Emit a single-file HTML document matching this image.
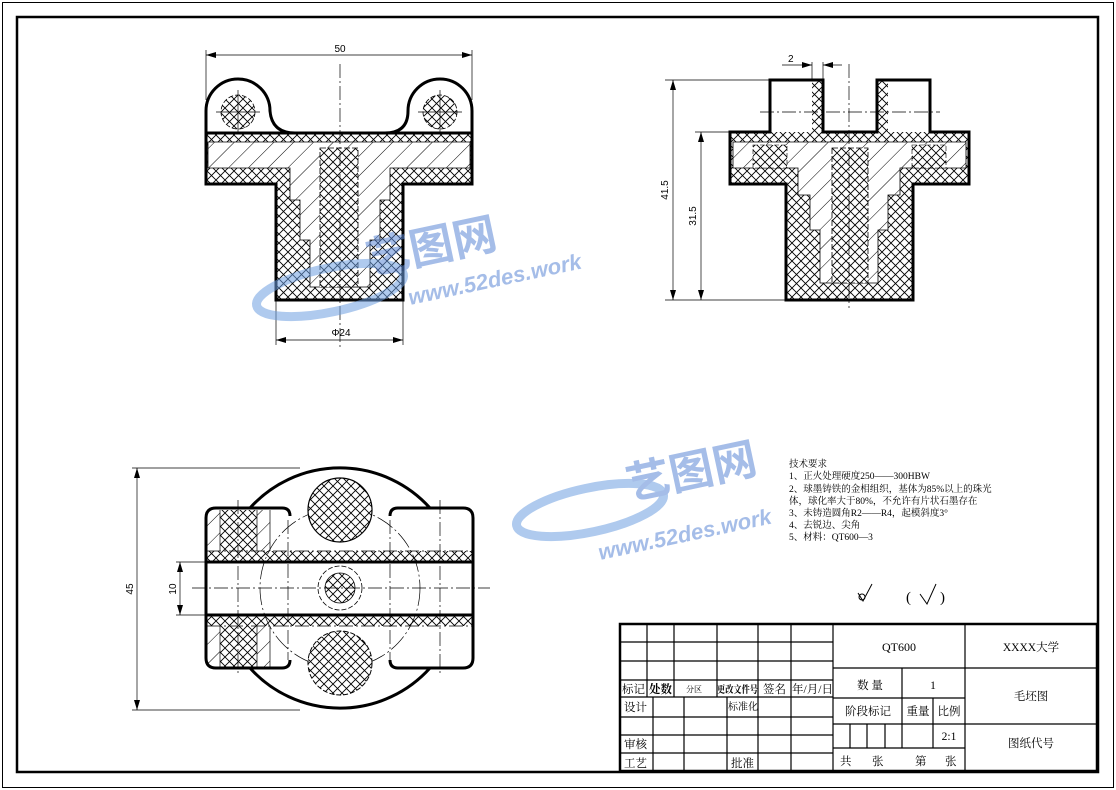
<!DOCTYPE html>
<html><head><meta charset="utf-8"><style>
html,body{margin:0;padding:0;background:#fff;}
svg{display:block;}
text{font-family:"Liberation Sans","Noto Sans CJK SC",sans-serif;fill:#000;}
.t{font-family:"Liberation Serif","Noto Serif CJK SC","Noto Sans CJK SC",serif;}
</style></head><body>
<svg width="1116" height="790" viewBox="0 0 1116 790" xmlns="http://www.w3.org/2000/svg">
<defs>
<pattern id="x" width="9" height="9" patternUnits="userSpaceOnUse">
<rect width="9" height="9" fill="#fff"/>
<path d="M0,0L9,9M9,0L0,9M-1,8L1,10M8,-1L10,1" stroke="#000" stroke-width="0.9"/>
</pattern>
<pattern id="d" width="14" height="14" patternUnits="userSpaceOnUse" patternTransform="rotate(45)">
<rect width="14" height="14" fill="#fff"/>
<line x1="0" y1="0" x2="0" y2="14" stroke="#000" stroke-width="1"/>
</pattern>
<marker id="a" viewBox="0 0 10 6" refX="10" refY="3" markerWidth="10" markerHeight="6" orient="auto-start-reverse" markerUnits="userSpaceOnUse">
<path d="M0,0L10,3L0,6Z" fill="#000"/>
</marker>
</defs>
<rect x="0" y="0" width="1116" height="790" fill="#fff"/>
<rect x="2.5" y="2.5" width="1111" height="785" fill="none" stroke="#000" stroke-width="1"/>
<rect x="17" y="17" width="1081" height="755" fill="none" stroke="#000" stroke-width="2.5"/>

<!-- ===== Top-left view ===== -->
<g>
<path d="M206,133H472V184H403V300H276V184H206Z" fill="url(#x)"/>
<path d="M208,142H470V168H390V200H380V240H370V287H310V240H300V200H290V168H208Z" fill="url(#d)" stroke="#000" stroke-width="0.8"/>
<rect x="320" y="148" width="38" height="139" fill="url(#x)" stroke="#000" stroke-width="0.8" stroke-dasharray="6,2"/>
<circle cx="238" cy="112" r="17" fill="url(#x)" stroke="#000" stroke-width="0.8" stroke-dasharray="5,2"/>
<circle cx="440" cy="112" r="17" fill="url(#x)" stroke="#000" stroke-width="0.8" stroke-dasharray="5,2"/>
<path d="M206,133V111A32,32 0 0 1 270,111Q272,133 295,133H385Q408,133 408,111A32,32 0 0 1 472,111V184H403V300H276V184H206Z M206,133H472" fill="none" stroke="#000" stroke-width="3"/>
<g stroke="#000" stroke-width="0.7" fill="none">
<line x1="340" y1="64" x2="340" y2="350" stroke-dasharray="14,3,2,3"/>
<line x1="216" y1="112" x2="260" y2="112"/><line x1="238" y1="90" x2="238" y2="134"/>
<line x1="418" y1="112" x2="462" y2="112"/><line x1="440" y1="90" x2="440" y2="134"/>
<line x1="206" y1="50" x2="206" y2="100"/><line x1="472" y1="50" x2="472" y2="100"/>
<line x1="206" y1="55" x2="472" y2="55" marker-start="url(#a)" marker-end="url(#a)"/>
<line x1="276" y1="300" x2="276" y2="345"/><line x1="403" y1="300" x2="403" y2="345"/>
<line x1="276" y1="340" x2="403" y2="340" marker-start="url(#a)" marker-end="url(#a)"/>
</g>
<text x="340" y="52" font-size="10" text-anchor="middle">50</text>
<text x="341" y="336" font-size="10" text-anchor="middle">Φ24</text>
</g>

<!-- ===== Top-right view ===== -->
<g>
<path d="M730,132H969V184H913V300H786V184H730Z" fill="url(#x)"/>
<rect x="812" y="80" width="11" height="52" fill="url(#x)"/>
<rect x="877" y="80" width="11" height="52" fill="url(#x)"/>
<path d="M733,142H966V168H900V195H888V230H878V283H820V230H810V195H798V168H733Z" fill="url(#d)" stroke="#000" stroke-width="0.8"/>
<rect x="753" y="145" width="34" height="23" fill="url(#x)" stroke="#000" stroke-width="0.6" stroke-dasharray="5,2"/>
<rect x="912" y="145" width="34" height="23" fill="url(#x)" stroke="#000" stroke-width="0.6" stroke-dasharray="5,2"/>
<rect x="832" y="148" width="36" height="135" fill="url(#x)" stroke="#000" stroke-width="0.8" stroke-dasharray="6,2"/>
<path d="M770,132V80H823V132H877V80H930V132H969V184H913V300H786V184H730V132Z" fill="none" stroke="#000" stroke-width="3"/>
<g stroke="#000" stroke-width="0.7" fill="none">
<line x1="849" y1="64" x2="849" y2="308" stroke-dasharray="14,3,2,3"/>
<line x1="760" y1="112" x2="940" y2="112" stroke-dasharray="14,3,2,3"/>
<line x1="665" y1="80" x2="770" y2="80"/><line x1="665" y1="300" x2="786" y2="300"/>
<line x1="695" y1="132" x2="730" y2="132"/>
<line x1="673" y1="80" x2="673" y2="300" marker-start="url(#a)" marker-end="url(#a)"/>
<line x1="701" y1="132" x2="701" y2="300" marker-start="url(#a)" marker-end="url(#a)"/>
<line x1="812" y1="62" x2="812" y2="80"/><line x1="823" y1="62" x2="823" y2="80"/>
<line x1="782" y1="65" x2="812" y2="65" marker-end="url(#a)"/>
<line x1="842" y1="65" x2="823" y2="65" marker-end="url(#a)"/>
</g>
<text x="788" y="62" font-size="10">2</text>
<text transform="translate(668,190) rotate(-90)" font-size="10" text-anchor="middle">41.5</text>
<text transform="translate(696,216) rotate(-90)" font-size="10" text-anchor="middle">31.5</text>
</g>

<!-- ===== Bottom view ===== -->
<g>
<rect x="220" y="510" width="37" height="41" fill="url(#x)"/>
<rect x="220" y="626" width="37" height="41" fill="url(#x)"/>
<rect x="207" y="510" width="13" height="41" fill="url(#d)"/>
<rect x="257" y="510" width="13" height="41" fill="url(#d)"/>
<rect x="207" y="626" width="13" height="41" fill="url(#d)"/>
<rect x="257" y="626" width="13" height="41" fill="url(#d)"/>
<rect x="207" y="551" width="265" height="11" fill="url(#x)"/>
<rect x="207" y="615" width="265" height="11" fill="url(#x)"/>
<g stroke="#000" stroke-width="0.7" fill="none">
<line x1="220" y1="510" x2="220" y2="551"/><line x1="257" y1="510" x2="257" y2="551"/>
<line x1="220" y1="626" x2="220" y2="667"/><line x1="257" y1="626" x2="257" y2="667"/>
<line x1="270" y1="510" x2="270" y2="551"/><line x1="270" y1="626" x2="270" y2="667"/>
<line x1="207" y1="551" x2="472" y2="551" stroke-dasharray="14,3,2,3"/>
<line x1="207" y1="626" x2="472" y2="626" stroke-dasharray="14,3,2,3"/>
<circle cx="340" cy="588" r="80" stroke-dasharray="18,3,2,3"/>
</g>
<circle cx="340" cy="510" r="32" fill="url(#x)" stroke="#000" stroke-width="1.2"/>
<circle cx="340" cy="663" r="32" fill="url(#x)" stroke="#000" stroke-width="1" stroke-dasharray="5,2"/>
<circle cx="340" cy="588" r="22" fill="#fff" stroke="#000" stroke-width="0.8" stroke-dasharray="5,2"/>
<circle cx="340" cy="588" r="15" fill="url(#x)" stroke="#000" stroke-width="0.8"/>
<g stroke="#000" stroke-width="3" fill="none">
<path d="M250,508A121,121 0 0 1 430,508"/>
<path d="M250,668A121,121 0 0 0 430,668"/>
<path d="M290,516Q290,508 282,508H216Q206,508 206,518V658Q206,668 216,668H282Q290,668 290,660"/>
<path d="M390,516Q390,508 398,508H463Q473,508 473,518V658Q473,668 463,668H398Q390,668 390,660"/>
<line x1="206" y1="562" x2="473" y2="562"/><line x1="206" y1="615" x2="473" y2="615"/>
</g>
<g stroke="#000" stroke-width="0.7" fill="none">
<line x1="192" y1="588" x2="490" y2="588" stroke-dasharray="14,3,2,3"/>
<line x1="238" y1="500" x2="238" y2="675" stroke-dasharray="14,3,2,3"/>
<line x1="288" y1="520" x2="288" y2="660" stroke-dasharray="14,3,2,3"/>
<line x1="390" y1="520" x2="390" y2="660" stroke-dasharray="14,3,2,3"/>
<line x1="440" y1="500" x2="440" y2="675" stroke-dasharray="14,3,2,3"/>
<line x1="132" y1="468" x2="300" y2="468"/><line x1="132" y1="710" x2="300" y2="710"/>
<line x1="137" y1="468" x2="137" y2="710" marker-start="url(#a)" marker-end="url(#a)"/>
<line x1="176" y1="562" x2="206" y2="562"/><line x1="176" y1="615" x2="206" y2="615"/>
<line x1="180" y1="562" x2="180" y2="615" marker-start="url(#a)" marker-end="url(#a)"/>
</g>
<text transform="translate(133,589) rotate(-90)" font-size="10" text-anchor="middle">45</text>
<text transform="translate(176,589) rotate(-90)" font-size="10" text-anchor="middle">10</text>
</g>

<!-- watermarks -->
<g opacity="0.55">
<ellipse cx="330" cy="290" rx="75" ry="22" fill="none" stroke="#6d9ee0" stroke-width="9" transform="rotate(-12 330 290)"/>
<text x="370" y="275" font-size="44" font-weight="bold" fill="#5b87d6" style="fill:#5b87d6" transform="rotate(-12 370 275)">艺图网</text>
<text x="410" y="305" font-size="22" font-weight="bold" font-style="italic" style="fill:#5b87d6" transform="rotate(-12 410 305)">www.52des.work</text>
<ellipse cx="590" cy="510" rx="75" ry="22" fill="none" stroke="#6d9ee0" stroke-width="9" transform="rotate(-12 590 510)"/>
<text x="630" y="500" font-size="44" font-weight="bold" style="fill:#5b87d6" transform="rotate(-12 630 500)">艺图网</text>
<text x="600" y="560" font-size="22" font-weight="bold" font-style="italic" style="fill:#5b87d6" transform="rotate(-12 600 560)">www.52des.work</text>
</g>

<!-- tech notes -->
<g class="t" font-size="9.5">
<text class="t" x="789" y="467">技术要求</text>
<text class="t" x="789" y="479">1、正火处理硬度250——300HBW</text>
<text class="t" x="789" y="492">2、球墨铸铁的金相组织，基体为85%以上的珠光</text>
<text class="t" x="789" y="504">体，球化率大于80%，不允许有片状石墨存在</text>
<text class="t" x="789" y="516">3、未铸造圆角R2——R4，起模斜度3°</text>
<text class="t" x="789" y="528">4、去锐边、尖角</text>
<text class="t" x="789" y="540">5、材料：QT600—3</text>
</g>
<!-- roughness -->
<g stroke="#000" stroke-width="1" fill="none">
<path d="M858,593L863,601L872,584"/><circle cx="862" cy="597" r="3"/>
<path d="M920,594L927,604L936,584"/>
</g>
<text class="t" x="906" y="602" font-size="15">(</text>
<text class="t" x="940" y="602" font-size="15">)</text>

<!-- title block -->
<g stroke="#000" fill="none">
<rect x="620" y="624" width="477" height="147" stroke-width="2.5"/>
<g stroke-width="1.2">
<line x1="833" y1="624" x2="833" y2="771"/><line x1="965" y1="624" x2="965" y2="771"/>
<line x1="620" y1="642" x2="833" y2="642"/><line x1="620" y1="661" x2="833" y2="661"/>
<line x1="620" y1="680" x2="833" y2="680"/><line x1="620" y1="697" x2="833" y2="697"/>
<line x1="620" y1="717" x2="833" y2="717"/><line x1="620" y1="735" x2="833" y2="735"/>
<line x1="620" y1="753" x2="833" y2="753"/>
<line x1="647" y1="624" x2="647" y2="697"/><line x1="674" y1="624" x2="674" y2="697"/>
<line x1="717" y1="624" x2="717" y2="697"/><line x1="758" y1="624" x2="758" y2="771"/>
<line x1="791" y1="624" x2="791" y2="771"/>
<line x1="653" y1="697" x2="653" y2="771"/><line x1="684" y1="697" x2="684" y2="771"/>
<line x1="727" y1="697" x2="727" y2="771"/>
<line x1="833" y1="668" x2="1097" y2="668"/><line x1="833" y1="698" x2="965" y2="698"/>
<line x1="833" y1="724" x2="1097" y2="724"/><line x1="833" y1="748" x2="965" y2="748"/>
<line x1="902" y1="668" x2="902" y2="748"/><line x1="933" y1="698" x2="933" y2="748"/>
<line x1="850" y1="724" x2="850" y2="748"/><line x1="867" y1="724" x2="867" y2="748"/>
<line x1="885" y1="724" x2="885" y2="748"/>
</g>
</g>
<g class="t" font-size="11.5">
<text class="t" x="622" y="693">标记</text>
<text class="t" x="649" y="693" font-weight="bold">处数</text>
<text class="t" x="686" y="692" font-size="8">分区</text>
<text class="t" x="717" y="693" font-weight="bold" font-size="10" textLength="41" lengthAdjust="spacingAndGlyphs">更改文件号</text>
<text class="t" x="763" y="693">签名</text>
<text class="t" x="792" y="693" textLength="41" lengthAdjust="spacingAndGlyphs">年/月/日</text>
<text class="t" x="624" y="711">设计</text>
<text class="t" x="728" y="710" font-size="10">标准化</text>
<text class="t" x="624" y="748">审核</text>
<text class="t" x="624" y="767">工艺</text>
<text class="t" x="731" y="767">批准</text>
<text class="t" x="899" y="651" text-anchor="middle" font-size="12">QT600</text>
<text class="t" x="1031" y="651" text-anchor="middle">XXXX大学</text>
<text class="t" x="870" y="689" text-anchor="middle">数 量</text>
<text class="t" x="933" y="689" text-anchor="middle">1</text>
<text class="t" x="868" y="715" text-anchor="middle">阶段标记</text>
<text class="t" x="918" y="715" text-anchor="middle">重量</text>
<text class="t" x="949" y="715" text-anchor="middle">比例</text>
<text class="t" x="949" y="740" text-anchor="middle">2:1</text>
<text class="t" x="1031" y="700" text-anchor="middle">毛坯图</text>
<text class="t" x="1031" y="747" text-anchor="middle">图纸代号</text>
<text class="t" x="840" y="765">共</text>
<text class="t" x="872" y="765">张</text>
<text class="t" x="915" y="765">第</text>
<text class="t" x="945" y="765">张</text>
</g>
</svg>
</body></html>
